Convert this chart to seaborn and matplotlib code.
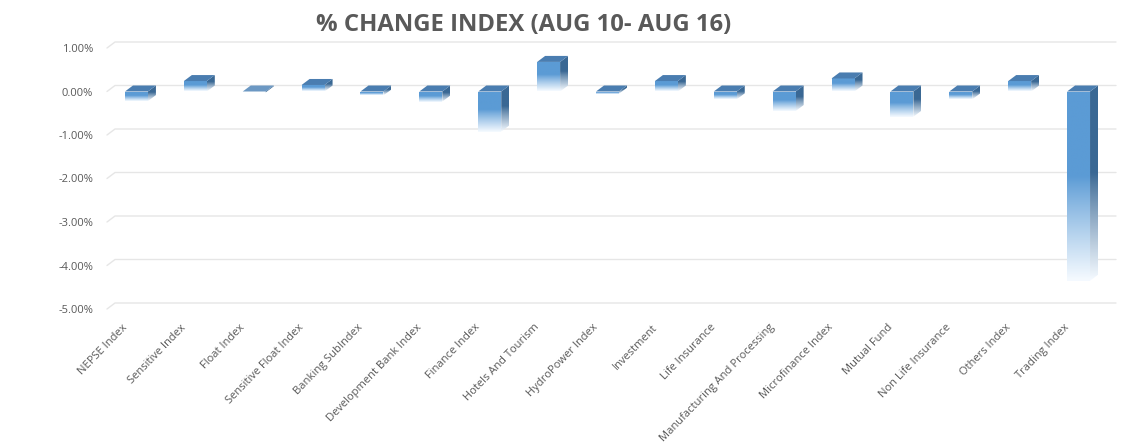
# 라이브러리
import numpy as np
import seaborn as sns
import matplotlib
matplotlib.use('Agg')
import matplotlib.pyplot as plt
from matplotlib.patches import Polygon
from matplotlib.ticker import FuncFormatter
from matplotlib.colors import to_rgb
from matplotlib.transforms import ScaledTranslation

# 데이터 (% change, Aug 10 - Aug 16)
categories = ['NEPSE Index', 'Sensitive Index', 'Float Index', 'Sensitive Float Index',
              'Banking SubIndex', 'Development Bank Index', 'Finance Index',
              'Hotels And Tourism', 'HydroPower Index', 'Investment', 'Life Insurance',
              'Manufacturing And Processing', 'Microfinance Index', 'Mutual Fund',
              'Non Life Insurance', 'Others Index', 'Trading Index']
changes = [-0.22, 0.24, -0.02, 0.15, -0.09, -0.23, -0.92, 0.68, -0.05,
           0.24, -0.18, -0.45, 0.30, -0.58, -0.18, 0.24, -4.35]
y_ticks = [1, 0, -1, -2, -3, -4, -5]

title = '% CHANGE INDEX (AUG 10- AUG 16)'

# 스타일
sns.set_style('white')
plt.rcParams['font.family'] = ['Open Sans', 'DejaVu Sans']
text_col = '#595959'
front_col = '#5B9BD5'
side_col = '#3A6894'
top_col = '#4A7DB0'

W, H = 1140, 447
fig = plt.figure(figsize=(W / 100, H / 100), dpi=100)
ax = fig.add_axes([107 / W, (H - 309) / H, (1108 - 107) / W, (309 - 48) / H])

sns.barplot(x=categories, y=changes, color=front_col, width=0.39, ax=ax,
            saturation=1, zorder=3)

ax.set_xlim(-0.5, len(categories) - 0.5)
ax.set_ylim(y_ticks[-1], y_ticks[0])

# 3D 깊이 (픽셀 -> 데이터 단위)
px_x = (len(categories)) / (1108 - 107)
px_y = (y_ticks[0] - y_ticks[-1]) / (309 - 48)
dx, dy = 8 * px_x, 6 * px_y


def gradient(color, n=64):
    c = np.array(to_rgb(color))
    w = np.array([0.96, 0.98, 1.0])
    t = np.linspace(0, 1, n)
    f = np.clip((t - 0.45) / 0.55, 0, 1) ** 0.9
    arr = c[None, :] * (1 - f[:, None]) + w[None, :] * f[:, None]
    return arr[:, None, :]


# 뒤쪽 그리드 (원근)
for t in y_ticks:
    ax.plot([-0.5, -0.5 + dx, len(categories) - 0.5 + dx], [t, t + dy, t + dy],
            color='#E6E6E6', lw=1, zorder=1, clip_on=False)

for p in list(ax.patches):
    x0 = p.get_x()
    x1 = x0 + p.get_width()
    ya = p.get_y()
    yb = ya + p.get_height()
    lo, hi = min(ya, yb), max(ya, yb)
    p.set_facecolor('none')
    p.set_edgecolor('none')
    flat = (hi - lo) < 0.04
    # 앞면
    if not flat:
        im = ax.imshow(gradient(front_col), extent=(x0, x1, lo, hi), origin='upper',
                       aspect='auto', zorder=3, interpolation='bilinear')
        im.set_clip_path(p)
    # 옆면
    side = Polygon([(x1, lo), (x1 + dx, lo + dy), (x1 + dx, hi + dy), (x1, hi)],
                   closed=True, facecolor='none', edgecolor='none', zorder=3)
    ax.add_patch(side)
    if not flat:
        im2 = ax.imshow(gradient(side_col), extent=(x1, x1 + dx, lo, hi + dy),
                        origin='upper', aspect='auto', zorder=3, interpolation='bilinear')
        im2.set_clip_path(side)
    else:
        side.set_facecolor(side_col)
    # 윗면
    top = Polygon([(x0, hi), (x1, hi), (x1 + dx, hi + dy), (x0 + dx, hi + dy)],
                  closed=True, facecolor='#6C98C3' if flat else top_col,
                  edgecolor='none', zorder=4)
    ax.add_patch(top)

ax.set_xlim(-0.5, len(categories) - 0.5)
ax.set_ylim(y_ticks[-1], y_ticks[0])
ax.set_yticks(y_ticks)
ax.yaxis.set_major_formatter(FuncFormatter(lambda v, _: f'{v:.2f}%'))
ax.tick_params(axis='both', length=0, colors=text_col, labelsize=8)
ax.tick_params(axis='y', pad=10)
ax.tick_params(axis='x', pad=0)
shift = ScaledTranslation(-0.15, -0.13, fig.dpi_scale_trans)
for lab in ax.get_xticklabels():
    lab.set_rotation(46)
    lab.set_ha('right')
    lab.set_rotation_mode('anchor')
    lab.set_transform(lab.get_transform() + shift)
ax.set_xlabel('')
ax.set_ylabel('')
sns.despine(ax=ax, left=True, bottom=True)
ax.grid(False)

fig.text(524 / W, 1 - 25 / H, title, ha='center', va='center',
         fontsize=17.2, fontweight='bold', color=text_col)

fig.savefig('out.png', dpi=100)
